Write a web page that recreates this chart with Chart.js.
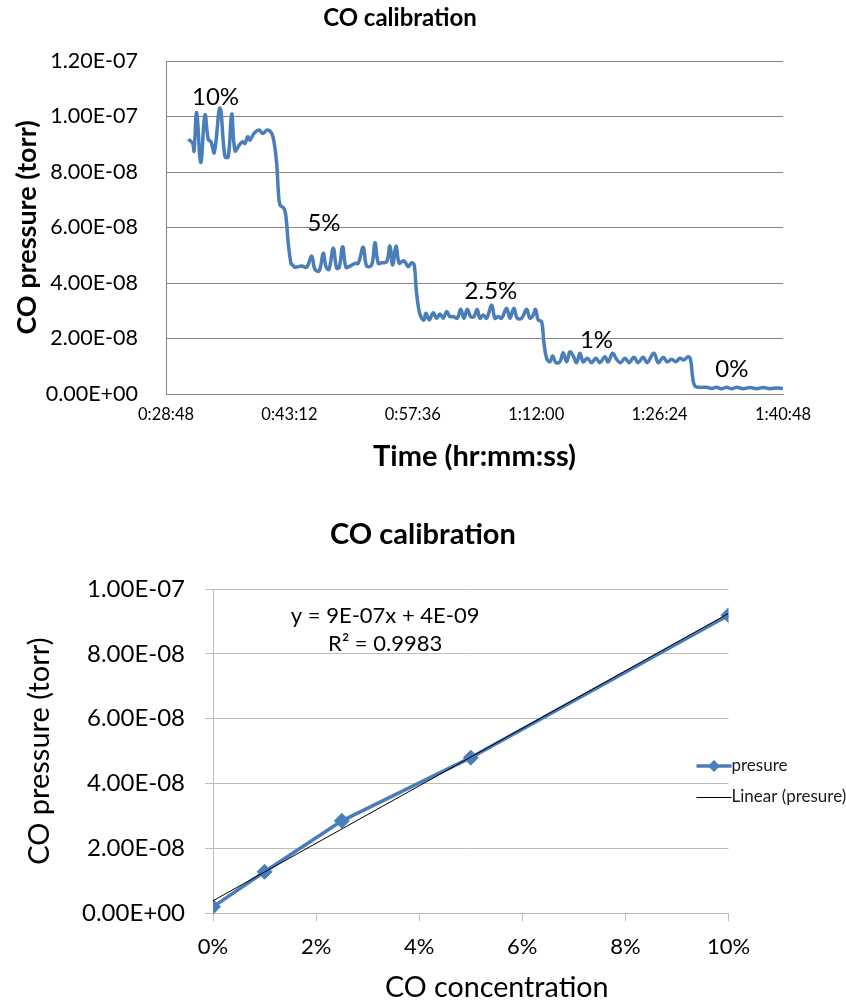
<!DOCTYPE html>
<html><head><meta charset="utf-8">
<script src="https://cdn.jsdelivr.net/npm/chart.js@4/dist/chart.umd.min.js"></script>
<style>
html,body{margin:0;padding:0;background:#fff;overflow:hidden;width:846px;height:1000px;}
#c1{position:absolute;left:0;top:0;}
#c2{position:absolute;left:0;top:490px;}
</style></head><body>
<canvas id="c1" width="846" height="490"></canvas>
<canvas id="c2" width="846" height="530"></canvas>
<script>
// ---------- Top chart data: time (s since 0:00:00) vs CO pressure (torr) ----------
const timeSeconds = [1884,1915,1924,1943,1971,2001,2024,2043,2066,2106,2141,2164,2188,2211,2241,2265,2281,2300,2316,2344,2381,2405,2437,2468,2486,2503,2514,2526,2554,2568,2584,2603,2615,2631,2678,2713,2748,2771,2801,2829,2848,2869,2899,2923,2941,2965,2988,3016,3051,3074,3109,3133,3168,3191,3214,3238,3273,3296,3315,3338,3361,3389,3408,3424,3448,3466,3481,3501,3518,3534,3548,3571,3599,3623,3646,3669,3693,3716,3739,3767,3791,3814,3837,3861,3884,3907,3926,3949,3973,4008,4031,4054,4078,4113,4136,4164,4187,4218,4253,4276,4299,4315,4334,4358,4374,4393,4416,4435,4458,4486,4509,4533,4556,4579,4603,4626,4649,4677,4708,4738,4766,4801,4824,4855,4883,4911,4941,4971,5004,5034,5069,5097,5144,5174,5209,5237,5268,5298,5326,5354,5384,5401,5415,5431,5466,5513,5548,5583,5618,5653,5688,5723,5769,5816,5863,5909,5956,6003,6047];
const pressureTorr = [9.18e-8,9.03e-8,8.76e-8,10.14e-8,8.34e-8,10.05e-8,9.18e-8,9.09e-8,8.70e-8,10.30e-8,8.55e-8,8.55e-8,10.09e-8,8.76e-8,8.97e-8,9.09e-8,9.03e-8,9.27e-8,9.15e-8,9.39e-8,9.51e-8,9.39e-8,9.51e-8,9.39e-8,9.03e-8,8.31e-8,7.35e-8,6.81e-8,6.69e-8,6.39e-8,5.43e-8,4.71e-8,4.65e-8,4.57e-8,4.61e-8,4.57e-8,4.97e-8,4.49e-8,4.44e-8,5.07e-8,4.59e-8,4.49e-8,5.25e-8,4.53e-8,4.57e-8,5.31e-8,4.57e-8,4.61e-8,4.71e-8,4.71e-8,5.29e-8,4.61e-8,4.65e-8,5.45e-8,4.71e-8,4.73e-8,4.77e-8,5.33e-8,4.65e-8,5.33e-8,4.71e-8,4.80e-8,4.71e-8,4.59e-8,4.73e-8,4.65e-8,3.70e-8,2.97e-8,2.73e-8,2.67e-8,2.91e-8,2.67e-8,2.93e-8,2.73e-8,2.88e-8,2.73e-8,2.97e-8,2.79e-8,2.79e-8,2.73e-8,3.05e-8,2.73e-8,3.05e-8,2.79e-8,2.79e-8,3.05e-8,2.73e-8,2.85e-8,2.73e-8,3.21e-8,2.73e-8,2.79e-8,2.73e-8,3.09e-8,2.73e-8,3.09e-8,2.73e-8,2.73e-8,3.05e-8,2.73e-8,2.85e-8,3.05e-8,2.67e-8,2.61e-8,1.85e-8,1.29e-8,1.16e-8,1.37e-8,1.13e-8,1.16e-8,1.49e-8,1.16e-8,1.52e-8,1.37e-8,1.13e-8,1.47e-8,1.16e-8,1.29e-8,1.13e-8,1.29e-8,1.13e-8,1.34e-8,1.16e-8,1.47e-8,1.25e-8,1.13e-8,1.29e-8,1.13e-8,1.32e-8,1.13e-8,1.32e-8,1.13e-8,1.47e-8,1.13e-8,1.32e-8,1.16e-8,1.25e-8,1.16e-8,1.29e-8,1.23e-8,1.34e-8,1.23e-8,0.62e-8,0.29e-8,0.24e-8,0.24e-8,0.20e-8,0.24e-8,0.19e-8,0.24e-8,0.19e-8,0.24e-8,0.19e-8,0.23e-8,0.19e-8,0.23e-8,0.19e-8,0.22e-8,0.19e-8];
// step annotations on the time series
const stepLabels = ['10%','5%','2.5%','1%','0%'];
const stepLabelTimes = [2075,2834,4003,4742,5690];
const stepLabelPressures = [10.7e-8,6.16e-8,3.69e-8,1.95e-8,0.88e-8];

// ---------- Bottom chart data: calibration ----------
const concentrations = [0,0.01,0.025,0.05,0.10];
const calPressures = [2.0e-9,1.28e-8,2.85e-8,4.80e-8,9.19e-8];
const seriesName = 'presure';
const trendName = 'Linear (presure)';
const trendText = ['y = 9E-07x + 4E-09','R\u00B2 = 0.9983'];
const xTitleBottom = 'CO concentration';

// ---------- helpers ----------
const F = 'Lato, "Open Sans", sans-serif';
function sci(v){
  const s = Number(v).toExponential(2).split('e');
  const e = parseInt(s[1],10);
  return s[0] + 'E' + (e<0?'-':'+') + String(Math.abs(e)).padStart(2,'0');
}
function hms(v){
  const t = Math.round(v), h = Math.floor(t/3600), m = Math.floor((t%3600)/60), s = t%60;
  return h + ':' + String(m).padStart(2,'0') + ':' + String(s).padStart(2,'0');
}
// least-squares trend of the calibration points
function linFit(xs, ys){
  const n = xs.length, mx = xs.reduce((a,b)=>a+b,0)/n, my = ys.reduce((a,b)=>a+b,0)/n;
  let sxy=0,sxx=0; for(let i=0;i<n;i++){sxy+=(xs[i]-mx)*(ys[i]-my); sxx+=(xs[i]-mx)*(xs[i]-mx);}
  const m = sxy/sxx; return {m, b: my - m*mx};
}

const stepLabelPlugin = {
  id:'stepLabels',
  afterDatasetsDraw(chart){
    const {ctx, scales:{x,y}} = chart;
    ctx.save();
    ctx.font = '24px ' + F; ctx.fillStyle = '#000'; ctx.textAlign = 'center'; ctx.textBaseline = 'middle';
    stepLabels.forEach((t,i)=>ctx.fillText(t, x.getPixelForValue(stepLabelTimes[i]), y.getPixelForValue(stepLabelPressures[i])));
    ctx.restore();
  }
};

new Chart(document.getElementById('c1'), {
  type:'line',
  data:{datasets:[{
    label:'CO pressure',
    data: timeSeconds.map((t,i)=>({x:t, y:pressureTorr[i]})),
    borderColor:'#4A7EBB', borderWidth:3.5, pointRadius:0, tension:0.4, fill:false
  }]},
  options:{
    responsive:false, animation:false, events:[],
    layout:{padding:{left:0,right:46,top:0,bottom:0}},
    plugins:{
      legend:{display:false}, tooltip:{enabled:false},
      title:{display:true, text:'CO calibration', color:'#000', font:{family:F,size:24,weight:'bold'}, padding:{top:3.6,bottom:28.6}}
    },
    scales:{
      x:{type:'linear', min:1728, max:6048,
        ticks:{stepSize:864, callback:hms, color:'#000', font:{family:F,size:16.5}, padding:11, maxRotation:0, autoSkip:false},
        grid:{display:true, drawOnChartArea:false, drawTicks:false},
        border:{display:true, color:'#868686', width:1},
        title:{display:true, text:'Time (hr:mm:ss)', color:'#000', font:{family:F,size:29,weight:'bold'}, padding:{top:15.6,bottom:15.6}},
        afterFit(s){ s.height = 96; }
      },
      y:{type:'linear', min:0, max:1.2e-7,
        ticks:{stepSize:2e-8, callback:sci, color:'#000', font:{family:F,size:21.5}, padding:28},
        grid:{color:'#868686', drawTicks:false},
        border:{display:true, color:'#868686'},
        title:{display:true, text:'CO pressure (torr)', color:'#000', font:{family:F,size:27,weight:'bold'}, padding:{top:10.8,bottom:10.8}},
        afterFit(s){ s.width = 166; }
      },
      yR:{type:'linear', position:'right', display:true,
        ticks:{display:false}, grid:{display:false, drawTicks:false}, border:{display:false},
        afterFit(s){ s.width = 17; }
      }
    }
  },
  plugins:[stepLabelPlugin]
});

// ---------- bottom chart ----------
const fit = linFit(concentrations, calPressures);
const trendX = [concentrations[0], concentrations[concentrations.length-1]];

const calibPlugin = {
  id:'calibExtras',
  afterDraw(chart){
    const {ctx, scales:{x,y}, chartArea} = chart;
    ctx.save();
    // trendline equation
    ctx.font = '22px ' + F; ctx.fillStyle = '#000'; ctx.textAlign = 'center'; ctx.textBaseline = 'middle';
    const ex = x.getPixelForValue(0.0334);
    ctx.fillText(trendText[0], ex, y.getPixelForValue(9.16e-8));
    ctx.fillText(trendText[1], ex, y.getPixelForValue(8.31e-8));
    // x-axis title (offset to the right of the plot centre, as in the original)
    ctx.font = '28.7px ' + F;
    ctx.fillText(xTitleBottom, (chartArea.left + chartArea.right)/2 + 26, x.bottom - 32);
    // legend
    const lx0 = chartArea.right - 32, lx1 = chartArea.right + 3;
    const ly1 = chartArea.top + 177, ly2 = ly1 + 31;
    ctx.strokeStyle = '#4A7EBB'; ctx.lineWidth = 3.5;
    ctx.beginPath(); ctx.moveTo(lx0, ly1); ctx.lineTo(lx1, ly1); ctx.stroke();
    ctx.fillStyle = '#4A7EBB';
    const cx = (lx0+lx1)/2, r = 6;
    ctx.beginPath(); ctx.moveTo(cx, ly1-r); ctx.lineTo(cx+r, ly1); ctx.lineTo(cx, ly1+r); ctx.lineTo(cx-r, ly1); ctx.closePath(); ctx.fill();
    ctx.strokeStyle = '#000'; ctx.lineWidth = 1;
    ctx.beginPath(); ctx.moveTo(lx0, ly2+0.5); ctx.lineTo(lx1, ly2+0.5); ctx.stroke();
    ctx.fillStyle = '#1a1a1a'; ctx.font = '17px ' + F; ctx.textAlign = 'left';
    ctx.fillText(chart.data.datasets[0].label, lx1, ly1);
    ctx.fillText(chart.data.datasets[1].label, lx1, ly2);
    ctx.restore();
  }
};

new Chart(document.getElementById('c2'), {
  type:'scatter',
  data:{datasets:[
    {label:seriesName, type:'line', order:1,
     data: concentrations.map((c,i)=>({x:c, y:calPressures[i]})),
     borderColor:'#4A7EBB', backgroundColor:'#4A7EBB', borderWidth:3.5,
     pointStyle:'rectRot', pointRadius:7.5, pointBorderWidth:1, tension:0, fill:false},
    {label:trendName, type:'line', order:0,
     data: trendX.map(c=>({x:c, y:fit.m*c + fit.b})),
     borderColor:'#000', borderWidth:1, pointRadius:0, tension:0, fill:false}
  ]},
  options:{
    responsive:false, animation:false, events:[],
    layout:{padding:{left:0,right:0,top:0,bottom:0}},
    plugins:{
      legend:{display:false}, tooltip:{enabled:false},
      title:{display:true, text:'CO calibration', color:'#000', font:{family:F,size:29,weight:'bold'}, padding:{top:27.6,bottom:36.6}}
    },
    scales:{
      x:{type:'linear', min:0, max:0.1,
        ticks:{stepSize:0.02, callback:v=>Math.round(v*100)+'%', color:'#000', font:{family:F,size:22}, padding:12.5, maxRotation:0},
        grid:{display:true, drawOnChartArea:false, drawTicks:true, tickLength:8, color:'#bdbdbd'},
        border:{display:true, color:'#bdbdbd'},
        title:{display:false},
        afterFit(s){ s.height = 106.7; }
      },
      y:{type:'linear', min:0, max:1e-7,
        ticks:{stepSize:2e-8, callback:sci, color:'#000', font:{family:F,size:24}, padding:20},
        grid:{color:'#bdbdbd', drawTicks:true, tickLength:8},
        border:{display:true, color:'#bdbdbd'},
        title:{display:true, text:'CO pressure (torr)', color:'#000', font:{family:F,size:29}, padding:{top:22.6,bottom:22.6}},
        afterFit(s){ s.width = 213; }
      },
      yR:{type:'linear', position:'right', display:true,
        ticks:{display:false}, grid:{display:false, drawTicks:false}, border:{display:false},
        afterFit(s){ s.width = 117.5; }
      }
    }
  },
  plugins:[calibPlugin]
});
</script>
</body></html>
